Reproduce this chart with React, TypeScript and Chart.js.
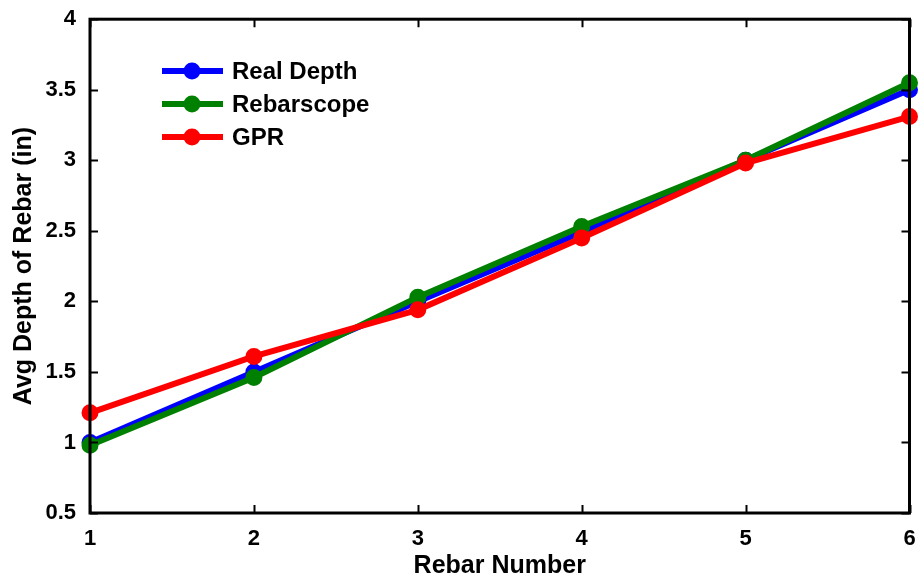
import React, { useEffect, useRef } from "react";
import { Chart, registerables } from "chart.js";

Chart.register(...registerables);

const rebarNumbers = [1, 2, 3, 4, 5, 6];
const realDepth = [1.0, 1.5, 2.0, 2.49, 3.0, 3.5];
const rebarscope = [0.98, 1.46, 2.03, 2.53, 3.0, 3.55];
const gpr = [1.21, 1.61, 1.94, 2.45, 2.98, 3.31];
const seriesNames = ["Real Depth", "Rebarscope", "GPR"];
const seriesColors = ["#0000FF", "#008000", "#FF0000"];
const yTicks = [0.5, 1, 1.5, 2, 2.5, 3, 3.5, 4];
const xTitle = "Rebar Number";
const yTitle = "Avg Depth of Rebar (in)";

const FONT = "'Liberation Sans', Arial, sans-serif";

const framePlugin = {
  id: "frameTicks",
  afterDatasetsDraw(chart: any) {
    const { ctx, chartArea } = chart;
    const { left, right, top, bottom } = chartArea;
    const xs = chart.scales.x;
    const ys = chart.scales.y;
    const tl = 8;
    ctx.save();
    ctx.strokeStyle = "#000";
    ctx.lineWidth = 2;
    xs.ticks.forEach((t: any) => {
      const px = Math.round(xs.getPixelForValue(t.value)) + 0.5;
      ctx.beginPath();
      ctx.moveTo(px, bottom);
      ctx.lineTo(px, bottom - tl);
      ctx.moveTo(px, top);
      ctx.lineTo(px, top + tl);
      ctx.stroke();
    });
    ys.ticks.forEach((t: any) => {
      const py = Math.round(ys.getPixelForValue(t.value)) + 0.5;
      ctx.beginPath();
      ctx.moveTo(left, py);
      ctx.lineTo(left + tl, py);
      ctx.moveTo(right, py);
      ctx.lineTo(right - tl, py);
      ctx.stroke();
    });
    ctx.lineWidth = 3;
    ctx.strokeRect(left, top, right - left, bottom - top);
    ctx.restore();
  },
};

const legendPlugin = {
  id: "customLegend",
  afterDraw(chart: any) {
    const { ctx } = chart;
    const rows = [71, 104, 137];
    ctx.save();
    seriesNames.forEach((name, i) => {
      const y = rows[i];
      const c = seriesColors[i];
      ctx.strokeStyle = c;
      ctx.lineWidth = 6;
      ctx.beginPath();
      ctx.moveTo(162, y);
      ctx.lineTo(223, y);
      ctx.stroke();
      ctx.fillStyle = c;
      ctx.beginPath();
      ctx.arc(192, y, 8.5, 0, Math.PI * 2);
      ctx.fill();
      ctx.fillStyle = "#000";
      ctx.font = `bold 24px ${FONT}`;
      ctx.textBaseline = "middle";
      ctx.textAlign = "left";
      ctx.fillText(name, 232, y + 1);
    });
    ctx.restore();
  },
};

export default function App() {
  const ref = useRef<HTMLCanvasElement | null>(null);
  useEffect(() => {
    if (!ref.current) return;
    const mk = (vals: number[], i: number, order: number) => ({
      label: seriesNames[i],
      data: rebarNumbers.map((x, k) => ({ x, y: vals[k] })),
      borderColor: seriesColors[i],
      backgroundColor: seriesColors[i],
      pointBackgroundColor: seriesColors[i],
      pointBorderColor: seriesColors[i],
      borderWidth: 6,
      pointRadius: 7.5,
      pointBorderWidth: 2,
      tension: 0,
      clip: false as any,
      order,
    });
    const chart = new Chart(ref.current, {
      type: "line",
      data: {
        datasets: [mk(realDepth, 0, 2), mk(rebarscope, 1, 1), mk(gpr, 2, 0)],
      },
      plugins: [framePlugin, legendPlugin],
      options: {
        animation: false,
        responsive: false,
        maintainAspectRatio: false,
        layout: { padding: { top: 17, right: 8, left: 0, bottom: 0 } },
        plugins: { legend: { display: false }, tooltip: { enabled: false } },
        scales: {
          x: {
            type: "linear",
            min: 1,
            max: 6,
            afterBuildTicks: (s: any) => {
              s.ticks = rebarNumbers.map((v) => ({ value: v }));
            },
            afterFit: (s: any) => {
              s.height = 68;
              s.paddingLeft = 0;
              s.paddingRight = 0;
            },
            grid: { display: false },
            border: { display: false },
            ticks: {
              color: "#000",
              padding: 5,
              maxRotation: 0,
              font: { family: FONT, size: 22, weight: "bold" },
              callback: (v: any) => String(v),
            },
            title: {
              display: true,
              text: xTitle,
              color: "#000",
              padding: { top: 0, bottom: 0 },
              font: { family: FONT, size: 25, weight: "bold" },
            },
          },
          y: {
            type: "linear",
            min: 0.5,
            max: 4,
            afterBuildTicks: (s: any) => {
              s.ticks = yTicks.map((v) => ({ value: v }));
            },
            afterFit: (s: any) => {
              s.width = 90;
            },
            grid: { display: false },
            border: { display: false },
            ticks: {
              color: "#000",
              padding: 6,
              font: { family: FONT, size: 22, weight: "bold" },
              callback: (v: any) => String(v),
            },
            title: {
              display: true,
              text: yTitle,
              color: "#000",
              padding: { top: 9, bottom: 0 },
              font: { family: FONT, size: 25, weight: "bold" },
            },
          },
        },
      },
    });
    return () => chart.destroy();
  }, []);
  return (
    <div style={{ position: "absolute", left: 0, top: 0, width: 919, height: 581, background: "#fff" }}>
      <canvas ref={ref} width={919} height={581} style={{ width: 919, height: 581 }} />
    </div>
  );
}
